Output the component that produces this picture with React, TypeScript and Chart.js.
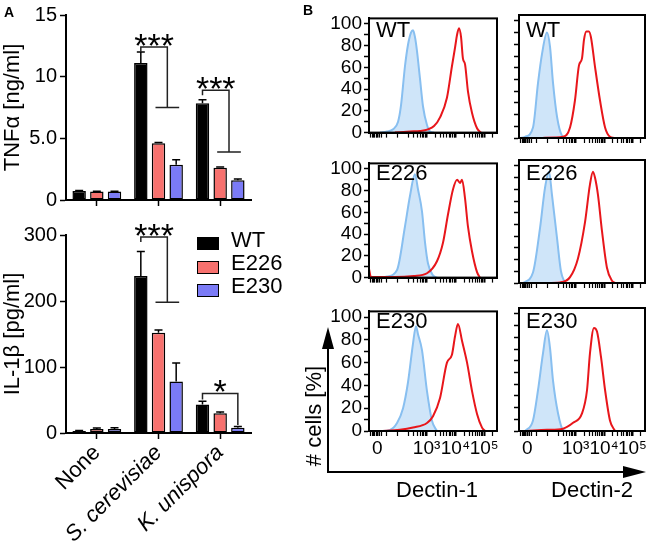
import React, { useEffect, useRef } from 'react';
import { Chart, registerables } from 'chart.js';

Chart.register(...registerables);

const FONT = '"Liberation Sans", Arial, Helvetica, sans-serif';
Chart.defaults.font.family = FONT;
Chart.defaults.color = '#000';

// ---------------- Panel A data ----------------
const categories = ['None', 'S. cerevisiae', 'K. unispora'];
const categoryItalic = [false, true, true];
const strains = ['WT', 'E226', 'E230'];
const strainColors = ['#000000', '#f7716e', '#7b7bf6'];

const tnfWT = [0.72, 11.1, 7.85];
const tnfE226 = [0.68, 4.6, 2.62];
const tnfE230 = [0.68, 2.85, 1.6];
const tnfErrWT = [0.05, 0.9, 0.28];
const tnfErrE226 = [0.03, 0.07, 0.05];
const tnfErrE230 = [0.03, 0.42, 0.1];
const tnfTicks = [0, 5, 10, 15];
const tnfTickLabels = ['0', '5.0', '10', '15'];

const il1WT = [3, 238, 43];
const il1E226 = [6, 152, 30];
const il1E230 = [6, 78, 8];
const il1ErrWT = [0.8, 37, 5];
const il1ErrE226 = [1.5, 4, 2];
const il1ErrE230 = [2, 28, 2];
const il1Ticks = [0, 100, 200, 300];
const il1TickLabels = ['0', '100', '200', '300'];

// significance brackets (values in axis units)
const tnfBracketCats = [1, 2];
const tnfBracketTop = [12.4, 8.9];
const tnfBracketLow = [7.5, 3.9];
const tnfBracketLabels = ['***', '***'];
const tnfBracketPairOnly = [false, false];

const il1BracketCats = [1, 2];
const il1BracketTop = [297, 60];
const il1BracketLow = [198, 12];
const il1BracketLabels = ['***', '*'];
const il1BracketPairOnly = [false, true];

// ---------------- Panel B data ----------------
const sampleNames = ['WT', 'E226', 'E230'];
const markerNames = ['Dectin-1', 'Dectin-2'];

const histXMajorTicks = [6.5, 45, 67.5, 90];
const histXMajorLabels = ['0', '10\u00b3', '10\u2074', '10\u2075'];
const histXMinorTicks = [1, 2.5, 3.5, 4.5, 5.5, 8, 10, 14, 22.5, 31, 35, 38, 40, 41.5, 42.8, 43.9,
  51.8, 55.7, 58.5, 60.7, 62.5, 64, 65.3, 66.5, 74.3, 78.2, 81, 83.2, 85, 86.5, 87.8, 89, 96.8];
const histYTicks = [0, 10, 20, 30, 40, 50, 60, 70, 80, 90, 100];
const histYTickLabels = ['0', '', '20', '', '40', '', '60', '', '80', '', '100'];

// [x (display units 0-100), % of max]
const wtDectin1Ctrl = [[8.6, 0], [14.1, 1], [18.8, 3], [22.7, 10], [25, 25], [28.1, 61], [30.5, 81], [32.8, 92], [34.4, 94], [35.9, 88], [37.5, 75], [39.8, 50], [42.2, 24], [45.3, 7], [47.7, 1], [50.8, 0]];
const wtDectin1Stain = [[20.3, 0], [32, 1], [39.8, 1.5], [46.1, 3], [50.8, 6], [55.5, 14], [60.9, 32], [64.8, 61], [67.2, 78], [68.8, 90], [70.3, 96], [71.9, 88], [73.4, 68], [75, 63], [77.3, 38], [80.5, 18], [84.4, 4], [87.5, 0]];
const wtDectin2Ctrl = [[0.8, 0], [4.8, 1], [11.1, 9], [15.1, 47], [18.3, 72], [22.2, 90], [24.6, 78], [27, 47], [30.2, 18], [34.1, 2], [37.3, 0]];
const wtDectin2Stain = [[16.7, 0], [28.6, 0.5], [34.9, 1], [40.5, 9], [44.4, 32], [47.6, 62], [50, 68], [51.6, 84], [53.5, 91], [55.5, 91], [57.1, 86], [60.3, 61], [64.3, 32], [68.3, 9], [72.2, 1], [75.4, 0]];
const e226Dectin1Ctrl = [[8.6, 0], [14.1, 1], [21.9, 7], [28.1, 47], [32, 75], [35.9, 95], [38.3, 81], [41.4, 61], [43.8, 32], [46.1, 13], [50, 2], [53.1, 0]];
const e226Dectin1Stain = [[0, 8], [1.5, 0.5], [20, 0.5], [35, 1.5], [45.3, 4], [53.1, 15], [57.8, 32], [61.7, 58], [65.6, 81], [68.8, 90], [71.1, 87], [72.7, 90], [75, 73], [77.3, 47], [80.5, 24], [84.4, 5], [86.7, 0]];
const e226Dectin2Ctrl = [[3.2, 0], [11.1, 9], [16.7, 47], [20.6, 81], [23.8, 95], [26.2, 75], [30.2, 38], [33.3, 10], [36.5, 0]];
const e226Dectin2Stain = [[20, 0], [32.5, 0.5], [40.5, 5], [46.8, 21], [52.4, 52], [56.3, 84], [58.7, 95], [60.3, 90], [62.7, 75], [65.9, 44], [69.8, 13], [73.8, 2], [76.2, 0]];
const e230Dectin1Ctrl = [[8.6, 0], [16.4, 1], [21.9, 7], [26.6, 20], [30.5, 43], [34.4, 77], [36.7, 92], [38.3, 85], [41.4, 71], [45.3, 35], [49.2, 9], [53.1, 0]];
const e230Dectin1Stain = [[8.6, 0], [24.2, 1], [34.4, 3], [45.3, 7], [50, 13], [55.5, 29], [60.9, 60], [64.8, 67], [67.2, 83], [69.5, 94], [72.7, 79], [76.6, 60], [80.5, 35], [84.4, 15], [88.3, 3], [90.6, 0]];
const e230Dectin2Ctrl = [[4.8, 0], [11.1, 9], [15.1, 35], [19, 66], [22.2, 86], [24.6, 71], [27, 43], [31, 15], [34.9, 1], [38.1, 0]];
const e230Dectin2Stain = [[6.3, 0], [22.2, 1], [34.9, 2], [42.9, 7], [50, 15], [54, 35], [56.3, 66], [59.5, 88], [61.9, 85], [65.1, 63], [68.3, 35], [72.2, 9], [76.2, 0]];

const histCtrl = [[wtDectin1Ctrl, wtDectin2Ctrl], [e226Dectin1Ctrl, e226Dectin2Ctrl], [e230Dectin1Ctrl, e230Dectin2Ctrl]];
const histStain = [[wtDectin1Stain, wtDectin2Stain], [e226Dectin1Stain, e226Dectin2Stain], [e230Dectin1Stain, e230Dectin2Stain]];

// ---------------- helpers ----------------
function makeBarPlugin(errs: number[][], cats: number[], tops: number[], lows: number[], labels: string[], pairOnly: boolean[]) {
  return {
    id: 'errAndSig',
    afterDatasetsDraw(chart: any) {
      const ctx = chart.ctx;
      const y = chart.scales.y;
      ctx.save();
      ctx.strokeStyle = '#000';
      ctx.lineWidth = 1.5;
      chart.data.datasets.forEach((ds: any, i: number) => {
        const meta = chart.getDatasetMeta(i);
        meta.data.forEach((el: any, j: number) => {
          const v = ds.data[j];
          const yv = y.getPixelForValue(v);
          const ye = y.getPixelForValue(v + errs[i][j]);
          ctx.beginPath();
          ctx.moveTo(el.x, yv);
          ctx.lineTo(el.x, ye);
          ctx.moveTo(el.x - 4, ye);
          ctx.lineTo(el.x + 4, ye);
          ctx.stroke();
        });
      });
      ctx.strokeStyle = '#222';
      cats.forEach((c, k) => {
        const xs = [0, 1, 2].map((i) => chart.getDatasetMeta(i).data[c].x);
        const yt = y.getPixelForValue(tops[k]);
        const yl = y.getPixelForValue(lows[k]);
        let lx;
        ctx.beginPath();
        if (pairOnly[k]) {
          ctx.moveTo(xs[0], yt + 6);
          ctx.lineTo(xs[0], yt);
          ctx.lineTo(xs[2], yt);
          ctx.lineTo(xs[2], yl);
          lx = (xs[0] + xs[2]) / 2;
        } else {
          const xm = (xs[1] + xs[2]) / 2;
          ctx.moveTo(xs[0], yt + 5);
          ctx.lineTo(xs[0], yt);
          ctx.lineTo(xm, yt);
          ctx.lineTo(xm, yl);
          ctx.moveTo(xs[1] - 3, yl);
          ctx.lineTo(xs[2] + 3, yl);
          lx = (xs[0] + xm) / 2;
        }
        ctx.stroke();
        ctx.fillStyle = '#000';
        ctx.font = '34px ' + FONT;
        ctx.textAlign = 'center';
        ctx.textBaseline = 'alphabetic';
        const m = ctx.measureText(labels[k]);
        const desc = isFinite(m.actualBoundingBoxDescent) ? m.actualBoundingBoxDescent : -14;
        ctx.fillText(labels[k], lx, yt - 1 - desc);
      });
      ctx.restore();
    },
  };
}

function barConfig(values: number[][], errs: number[][], yMax: number, ticks: number[], tickLabels: string[], title: string,
  showX: boolean, xH: number, padTop: number, padRight: number, plugin: any) {
  return {
    type: 'bar',
    data: {
      labels: categories,
      datasets: strains.map((s, i) => ({
        label: s,
        data: values[i],
        backgroundColor: strainColors[i],
        borderColor: '#000',
        borderWidth: 1.5,
        borderSkipped: false,
        categoryPercentage: 0.86,
        barPercentage: 0.76,
      })),
    },
    options: {
      responsive: false,
      animation: false,
      devicePixelRatio: 1,
      layout: { padding: { top: padTop, right: padRight, left: 0, bottom: 0 }, autoPadding: false },
      plugins: { legend: { display: false }, tooltip: { enabled: false } },
      scales: {
        x: {
          type: 'category',
          offset: true,
          grid: { display: true, drawOnChartArea: false, offset: false, drawTicks: true, tickLength: 6, tickColor: '#000', tickWidth: 1.5 },
          border: { display: true, color: '#000', width: 2 },
          ticks: {
            display: showX,
            minRotation: 45,
            maxRotation: 45,
            padding: 1,
            autoSkip: false,
            color: '#000',
            font: (c: any) => ({ family: FONT, size: 22, style: categoryItalic[c.index] ? 'italic' : 'normal' }),
          },
          afterFit: (s: any) => { s.height = xH; },
        },
        y: {
          min: 0,
          max: yMax,
          afterBuildTicks: (s: any) => { s.ticks = ticks.map((v) => ({ value: v })); },
          ticks: {
            padding: 3,
            autoSkip: false,
            font: { size: 20 },
            color: '#000',
            callback: (v: any) => tickLabels[ticks.indexOf(v)] ?? '',
          },
          grid: { display: true, drawOnChartArea: false, tickLength: 6, tickColor: '#000', tickWidth: 1.5 },
          border: { display: true, color: '#000', width: 2 },
          title: { display: true, text: title, font: { size: 22 }, padding: 0, color: '#000' },
          afterFit: (s: any) => { s.width = 66; },
        },
      },
    },
    plugins: [plugin],
  };
}

const framePlugin = {
  id: 'frame',
  afterDraw(chart: any) {
    const { ctx, chartArea: a } = chart;
    ctx.save();
    ctx.strokeStyle = '#000';
    ctx.lineWidth = 2;
    ctx.strokeRect(a.left, a.top, a.right - a.left, a.bottom - a.top);
    ctx.restore();
  },
};

const histXAllTicks = [...histXMajorTicks, ...histXMinorTicks].sort((a, b) => a - b);

function histConfig(stain: number[][], ctrl: number[][], showY: boolean, showX: boolean, yW: number, xH: number, padTop: number, padRight: number) {
  return {
    type: 'line',
    data: {
      datasets: [
        {
          data: stain.map(([x, y]) => ({ x, y })),
          borderColor: '#e8161b',
          borderWidth: 2,
          pointRadius: 0,
          fill: false,
          cubicInterpolationMode: 'monotone',
        },
        {
          data: ctrl.map(([x, y]) => ({ x, y })),
          borderColor: '#88bff0',
          backgroundColor: 'rgba(160,204,244,0.5)',
          borderWidth: 2,
          pointRadius: 0,
          fill: 'origin',
          cubicInterpolationMode: 'monotone',
        },
      ],
    },
    options: {
      responsive: false,
      animation: false,
      devicePixelRatio: 1,
      layout: { padding: { top: padTop, right: padRight, left: 0, bottom: 0 }, autoPadding: false },
      plugins: { legend: { display: false }, tooltip: { enabled: false } },
      scales: {
        x: {
          type: 'linear',
          min: 0,
          max: 100,
          afterBuildTicks: (s: any) => { s.ticks = histXAllTicks.map((v) => ({ value: v })); },
          ticks: {
            display: showX,
            autoSkip: false,
            maxRotation: 0,
            minRotation: 0,
            padding: 1,
            font: { size: 19 },
            color: '#000',
            callback: (v: any) => {
              const k = histXMajorTicks.indexOf(v);
              return k >= 0 ? histXMajorLabels[k] : '';
            },
          },
          grid: {
            display: true,
            drawOnChartArea: false,
            tickLength: 5,
            tickColor: '#000',
            tickWidth: (c: any) => (c.tick && histXMajorTicks.indexOf(c.tick.value) >= 0 ? 2 : 1.2),
          },
          border: { display: true, color: '#000', width: 2 },
          afterFit: (s: any) => { s.height = xH; },
        },
        y: {
          min: 0,
          max: 105,
          afterBuildTicks: (s: any) => { s.ticks = histYTicks.map((v) => ({ value: v })); },
          ticks: {
            display: showY,
            autoSkip: false,
            padding: 2,
            font: { size: 19 },
            color: '#000',
            callback: (v: any) => histYTickLabels[histYTicks.indexOf(v)] ?? '',
          },
          grid: { display: true, drawOnChartArea: false, tickLength: 5, tickColor: '#000', tickWidth: 1.5 },
          border: { display: true, color: '#000', width: 2 },
          afterFit: (s: any) => { s.width = yW; },
        },
      },
    },
    plugins: [framePlugin],
  };
}

function ChartCanvas({ left, top, width, height, make }: { left: number; top: number; width: number; height: number; make: () => any }) {
  const ref = useRef<HTMLCanvasElement>(null);
  useEffect(() => {
    const chart = new Chart(ref.current as HTMLCanvasElement, make());
    return () => chart.destroy();
  }, []);
  return <canvas ref={ref} width={width} height={height} style={{ position: 'absolute', left, top, width, height }} />;
}

const histCols = [
  { left: 325, width: 176, yW: 44, showY: true, labelLeft: 376 },
  { left: 505, width: 144, yW: 14, showY: false, labelLeft: 526 },
];
const histRows = [
  { top: 5, plotTop: 15, plotBottom: 138, xH: 8, showX: false, labelTop: 19 },
  { top: 150, plotTop: 160, plotBottom: 283, xH: 8, showX: false, labelTop: 162 },
  { top: 298, plotTop: 308, plotBottom: 431, xH: 30, showX: true, labelTop: 310 },
];

export default function App() {
  const tnfPlugin = makeBarPlugin([tnfErrWT, tnfErrE226, tnfErrE230], tnfBracketCats, tnfBracketTop, tnfBracketLow, tnfBracketLabels, tnfBracketPairOnly);
  const il1Plugin = makeBarPlugin([il1ErrWT, il1ErrE226, il1ErrE230], il1BracketCats, il1BracketTop, il1BracketLow, il1BracketLabels, il1BracketPairOnly);
  const text = (extra: any) => ({ position: 'absolute' as const, fontFamily: FONT, color: '#000', whiteSpace: 'nowrap' as const, ...extra });

  return (
    <div style={{ position: 'absolute', left: 0, top: 0, width: 649, height: 544, background: '#fff', overflow: 'hidden', fontFamily: FONT }}>
      <ChartCanvas left={0} top={0} width={262} height={215}
        make={() => barConfig([tnfWT, tnfE226, tnfE230], [tnfErrWT, tnfErrE226, tnfErrE230], 15, tnfTicks, tnfTickLabels, 'TNF\u03b1 [ng/ml]', false, 8, 8, 11, tnfPlugin)} />
      <ChartCanvas left={0} top={215} width={262} height={329}
        make={() => barConfig([il1WT, il1E226, il1E230], [il1ErrWT, il1ErrE226, il1ErrE230], 300, il1Ticks, il1TickLabels, 'IL-1\u03b2 [pg/ml]', true, 111, 20, 11, il1Plugin)} />

      {histRows.map((r, ri) => histCols.map((c, ci) => (
        <ChartCanvas key={ri + '-' + ci} left={c.left} top={r.top} width={c.width} height={r.plotBottom + r.xH - r.top}
          make={() => histConfig(histStain[ri][ci], histCtrl[ri][ci], c.showY, r.showX, c.yW, r.xH, r.plotTop - r.top, 4)} />
      )))}

      {histRows.map((r, ri) => histCols.map((c, ci) => (
        <div key={'s' + ri + ci} style={text({ left: c.labelLeft, top: r.labelTop, fontSize: 22, lineHeight: '22px' })}>{sampleNames[ri]}</div>
      )))}

      {/* legend */}
      {strains.map((s, i) => (
        <React.Fragment key={s}>
          <div style={{ position: 'absolute', left: 197, top: 237 + i * 23.5, width: 22, height: 13, boxSizing: 'border-box', border: '1.5px solid #000', background: strainColors[i] }} />
          <div style={text({ left: 231, top: 229 + i * 23, fontSize: 22, lineHeight: '22px' })}>{s}</div>
        </React.Fragment>
      ))}

      {/* panel letters */}
      <div style={text({ left: 4, top: 5, fontSize: 14, lineHeight: '14px', fontWeight: 'bold' })}>A</div>
      <div style={text({ left: 303, top: 3, fontSize: 14, lineHeight: '14px', fontWeight: 'bold' })}>B</div>

      {/* axis arrows for panel B */}
      <svg width={649} height={544} style={{ position: 'absolute', left: 0, top: 0, pointerEvents: 'none' }}>
        <line x1={328} y1={472} x2={328} y2={346} stroke="#000" strokeWidth={2} />
        <polygon points="328,327 322,349 334,349" fill="#000" />
        <line x1={327} y1={472} x2={626} y2={472} stroke="#000" strokeWidth={2} />
        <polygon points="646,472 623,466 623,478" fill="#000" />
      </svg>
      <div style={text({ left: 314 - 100, top: 416 - 11, width: 200, textAlign: 'center', fontSize: 22, lineHeight: '22px', transform: 'rotate(-90deg)' })}># cells [%]</div>
      {markerNames.map((m, i) => (
        <div key={m} style={text({ left: [437, 592][i] - 60, top: 479, width: 120, textAlign: 'center', fontSize: 22, lineHeight: '22px' })}>{m}</div>
      ))}
    </div>
  );
}
